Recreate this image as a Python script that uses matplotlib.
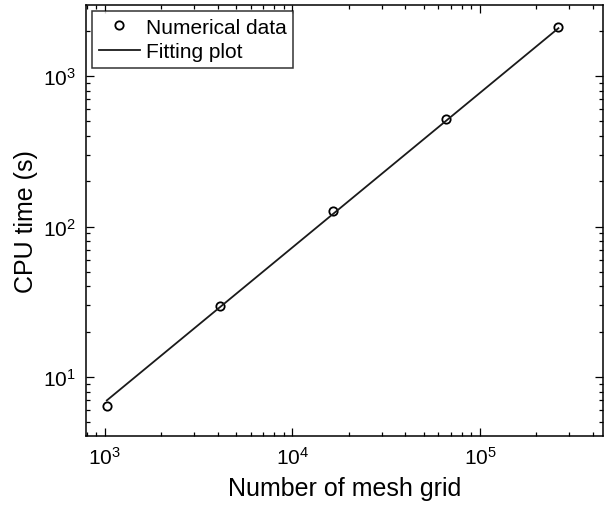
import matplotlib
matplotlib.use("Agg")
import matplotlib.pyplot as plt
from matplotlib.ticker import LogLocator, NullFormatter

plt.rcParams['font.family'] = ['Liberation Sans', 'DejaVu Sans']
plt.rcParams['mathtext.fontset'] = 'custom'
plt.rcParams['mathtext.rm'] = 'Liberation Sans'

mesh_grid = [1024, 4096, 16384, 65536, 262144]
cpu_time = [6.45, 29.8, 127.8, 518, 2106]
fit_x = [1024, 262144]
fit_y = [7.0, 2080]

fig = plt.figure(figsize=(6.08, 5.10), dpi=100)
ax = fig.add_axes([86/608, 1-437/510, (603-86)/608, (437-6)/510])

ax.plot(mesh_grid, cpu_time, linestyle='none', marker='o', markersize=6,
        markerfacecolor='none', markeredgecolor='black', markeredgewidth=1.3,
        label='Numerical data')
ax.plot(fit_x, fit_y, color='#1a1a1a', linewidth=1.3, label='Fitting plot')

ax.set_xscale('log')
ax.set_yscale('log')
ax.set_xlim(793, 4.53e5)
ax.set_ylim(4.06, 2965)

ax.xaxis.set_major_locator(LogLocator(base=10, numticks=10))
ax.yaxis.set_major_locator(LogLocator(base=10, numticks=10))
ax.xaxis.set_minor_locator(LogLocator(base=10, subs=range(2, 10), numticks=20))
ax.yaxis.set_minor_locator(LogLocator(base=10, subs=range(2, 10), numticks=20))
ax.xaxis.set_minor_formatter(NullFormatter())
ax.yaxis.set_minor_formatter(NullFormatter())

ax.tick_params(which='both', direction='in', top=True, right=True, width=0.9)
ax.tick_params(which='major', length=6, labelsize=15, pad=7)
ax.tick_params(which='minor', length=3)
for s in ax.spines.values():
    s.set_linewidth(1.1)

ax.set_xlabel('Number of mesh grid', fontsize=18, labelpad=6)
ax.set_ylabel('CPU time (s)', fontsize=18, labelpad=4)

leg = ax.legend(loc='upper left', fontsize=15, frameon=True, fancybox=False,
                edgecolor='black', borderpad=0.3, handlelength=2.0,
                handletextpad=0.3, labelspacing=0.28, borderaxespad=0.3)
leg.get_frame().set_linewidth(1.1)

fig.savefig('out.png', dpi=100)
